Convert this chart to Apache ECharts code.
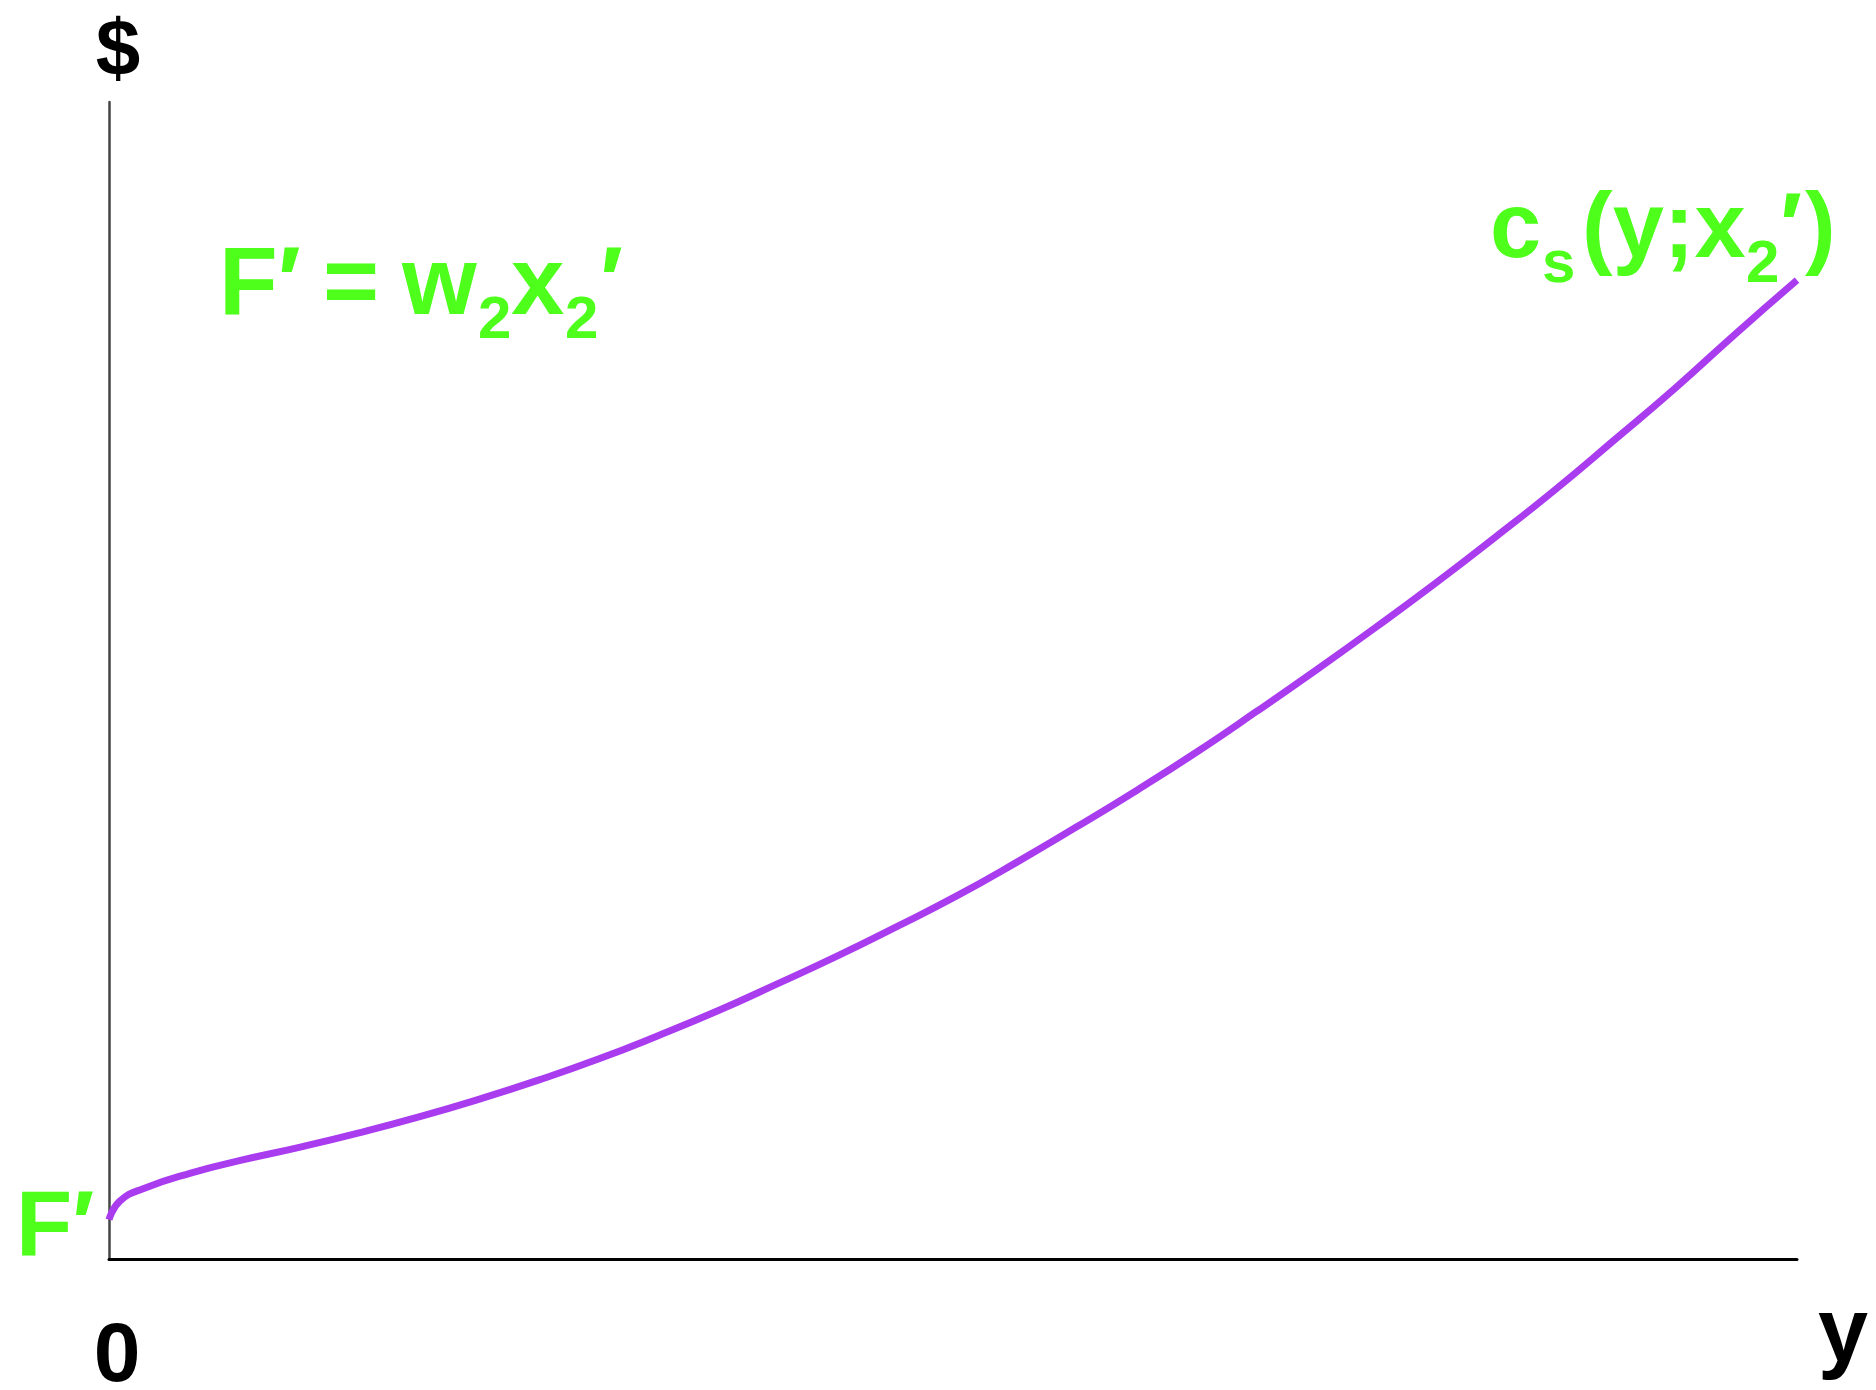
<!DOCTYPE html>
<html>
<head>
<meta charset="utf-8">
<script src="https://cdn.jsdelivr.net/npm/echarts@6/dist/echarts.min.js"></script>
<style>
  html, body { margin: 0; padding: 0; background: #fff; }
  #chart { width: 1876px; height: 1390px; }
</style>
</head>
<body>
<div id="chart"></div>
<script>
// output y (horizontal) and cost $ (vertical), both on a 0..100 scale
const outputY = [0, 0.64, 2.06, 4.89, 7.72, 11.27, 14.81, 18.36, 21.9, 25.44, 28.99, 32.53,
  36.07, 39.62, 43.16, 46.7, 50.25, 53.79, 57.33, 60.88, 64.42, 67.96, 71.51, 75.05,
  78.58, 82.14, 85.68, 89.23, 92.77, 96.31, 100];
const costValues = [3.4, 5.0, 6.1, 7.45, 8.5, 9.65, 10.9, 12.28, 13.8, 15.46, 17.28, 19.3,
  21.45, 23.8, 26.2, 28.75, 31.4, 34.3, 37.35, 40.5, 43.8, 47.3, 50.9, 54.6,
  58.4, 62.4, 66.5, 70.85, 75.25, 79.9, 84.6];

const GREEN = '#4dff1a';
const PURPLE = '#aa3cf0';
const FONT = '"Liberation Sans", Arial, Helvetica, sans-serif';

const chart = echarts.init(document.getElementById('chart'));

// place text by its alphabetic baseline (middle alignment, shifted)
function label(text, x, baseline, size, color, align) {
  return {
    type: 'text',
    x: x,
    y: baseline - size * 0.29,
    silent: true,
    style: {
      text: text,
      fill: color,
      font: 'bold ' + size + 'px ' + FONT,
      textAlign: align || 'left',
      textVerticalAlign: 'middle'
    }
  };
}

const curve = outputY.map((v, i) => [v, costValues[i]]);

chart.setOption({
  backgroundColor: '#ffffff',
  animation: false,
  grid: { left: 109, right: 79, top: 102, bottom: 131 },
  xAxis: {
    type: 'value', min: 0, max: 100,
    axisLine: { show: true, onZero: false, lineStyle: { color: '#000', width: 3 } },
    axisTick: { show: false }, axisLabel: { show: false }, splitLine: { show: false }
  },
  yAxis: {
    type: 'value', min: 0, max: 100,
    axisLine: { show: true, onZero: false, lineStyle: { color: '#444', width: 2.5 } },
    axisTick: { show: false }, axisLabel: { show: false }, splitLine: { show: false }
  },
  series: [{
    type: 'line',
    data: curve,
    smooth: true,
    showSymbol: false,
    lineStyle: { color: PURPLE, width: 7 }
  }],
  graphic: [
    label('$', 118, 76, 80, '#000', 'center'),
    label('0', 117, 1382, 84, '#000', 'center'),
    label('y', 1843, 1362, 90, '#000', 'center'),
    label('F\u2032', 16, 1256, 92, GREEN),
    // F' = w2x2'
    label('F\u2032', 219, 315, 96, GREEN),
    label('=', 323, 315, 96, GREEN),
    label('w', 402, 315, 96, GREEN),
    label('2', 478, 339, 60, GREEN),
    label('x', 511, 315, 96, GREEN),
    label('2', 565, 339, 60, GREEN),
    label('\u2032', 600, 315, 96, GREEN),
    // cs(y;x2')
    label('c', 1490, 258, 92, GREEN),
    label('s', 1542, 283, 60, GREEN),
    label('(y;x', 1582, 258, 92, GREEN),
    label('2', 1746, 283, 60, GREEN),
    label('\u2032', 1780, 258, 92, GREEN),
    label(')', 1805, 258, 92, GREEN)
  ]
});
</script>
</body>
</html>
